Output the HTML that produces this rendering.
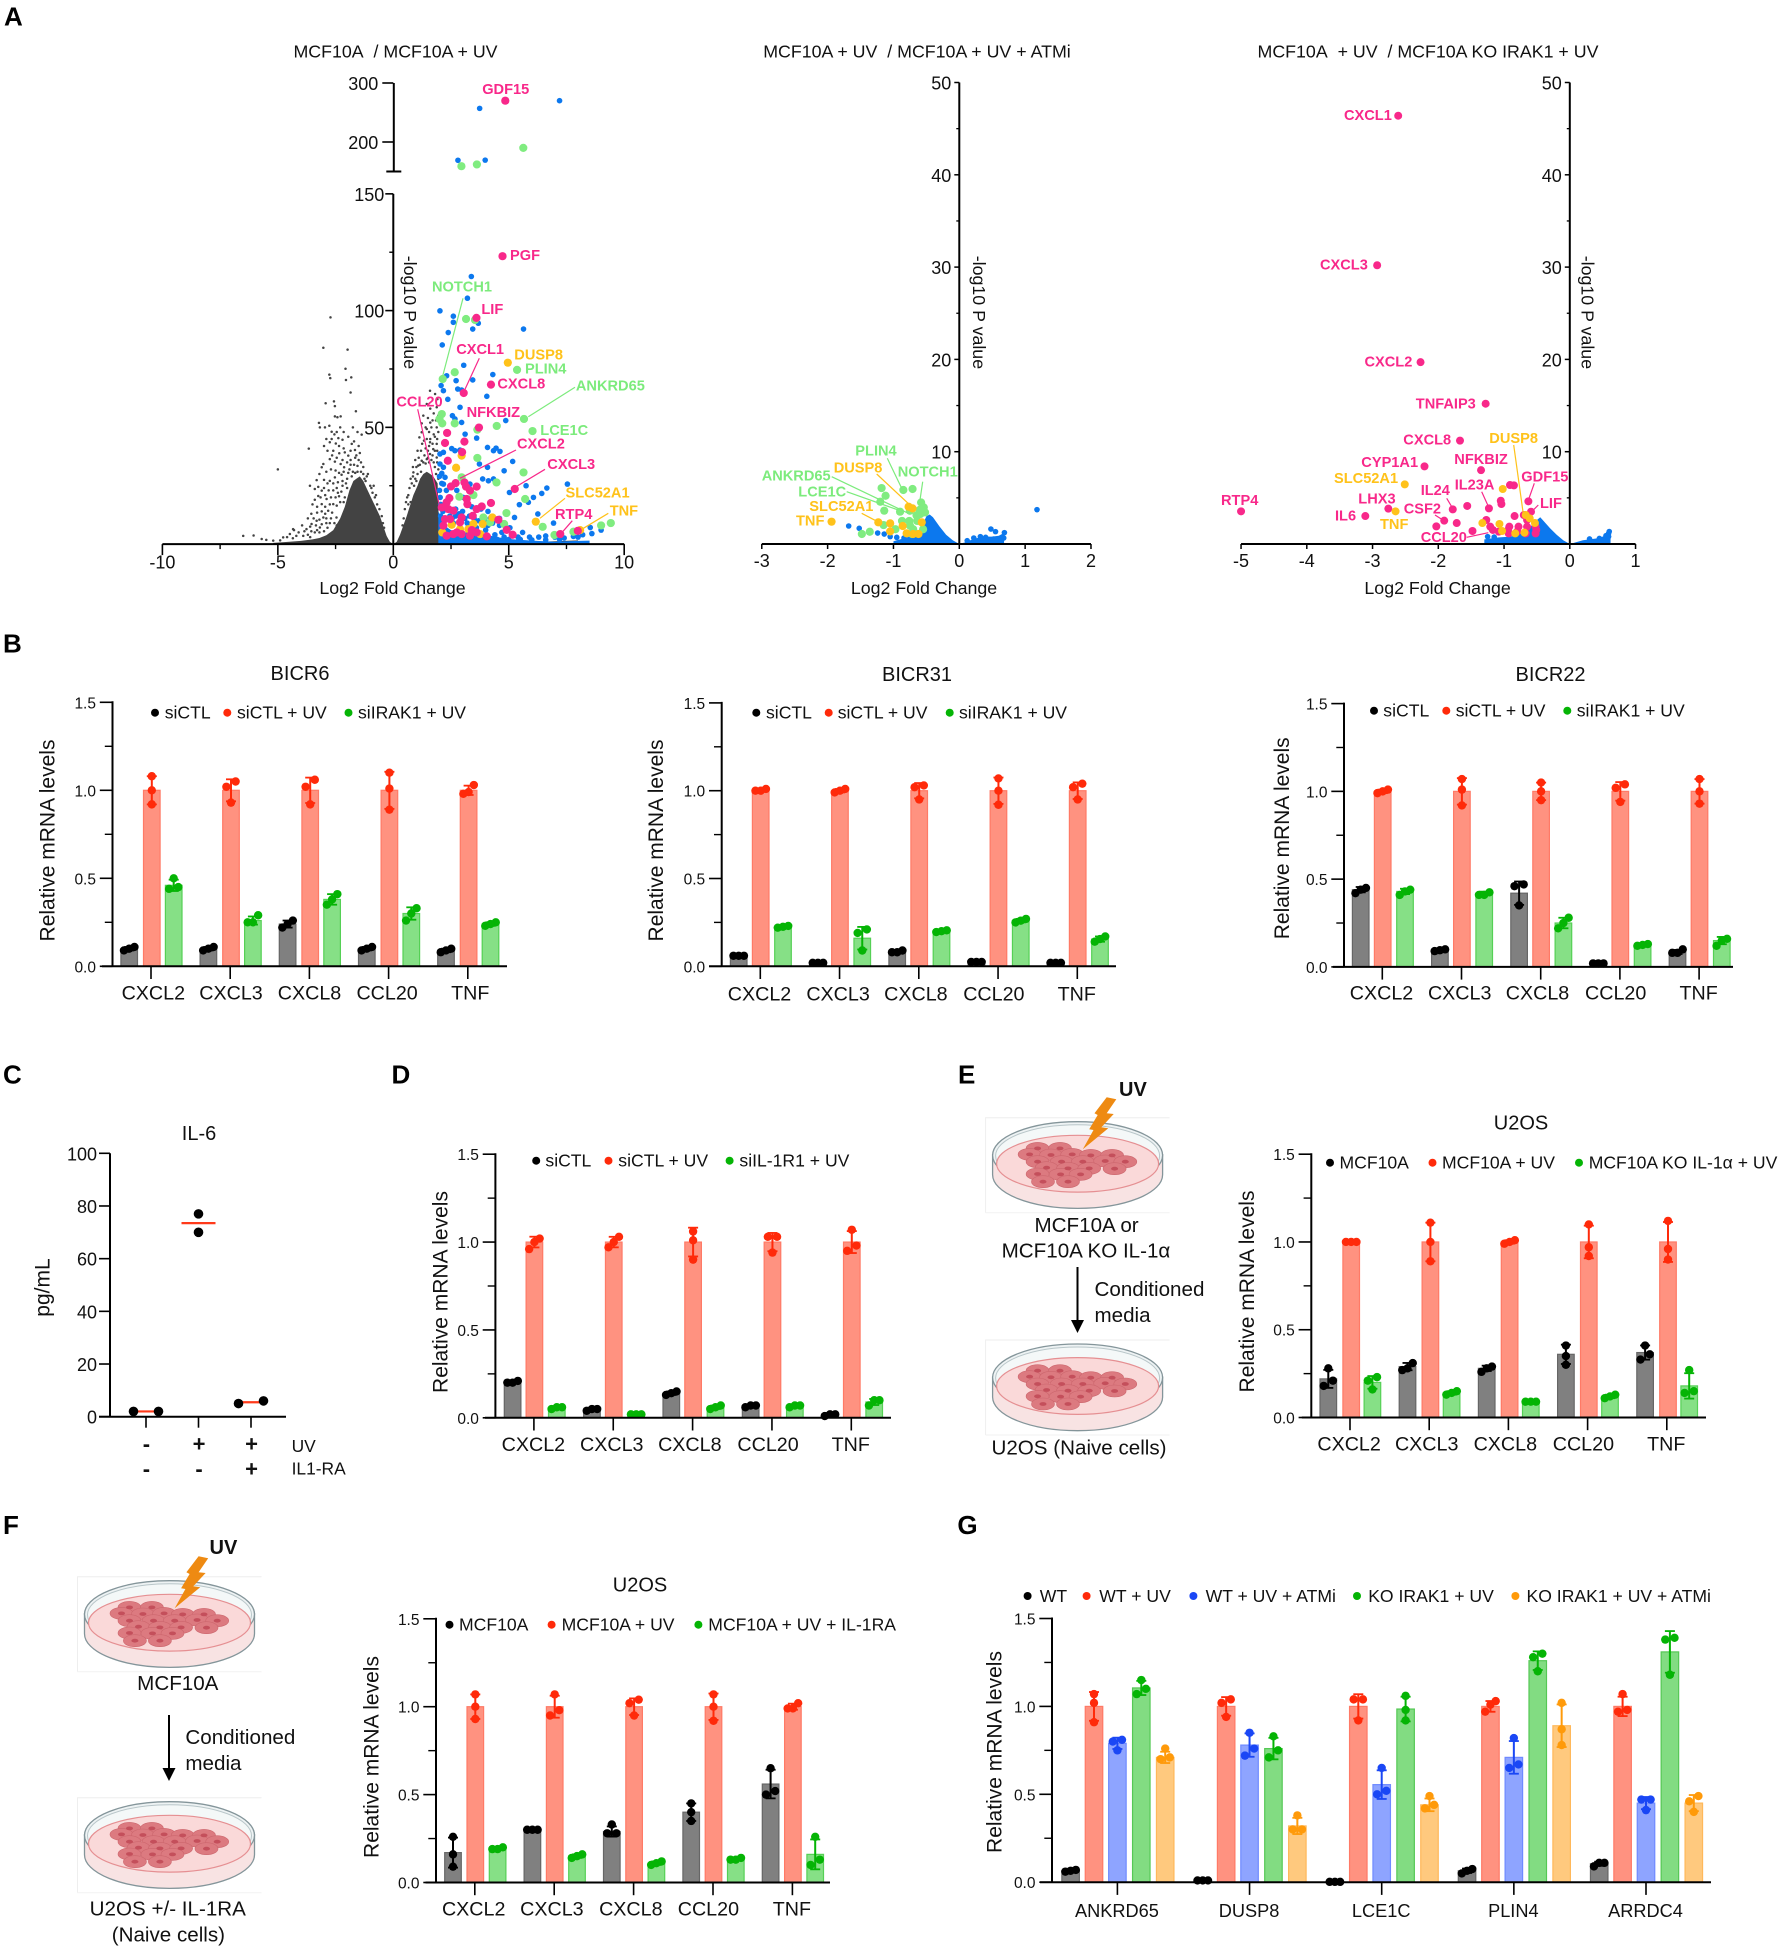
<!DOCTYPE html>
<html lang="en">
<head>
<meta charset="utf-8">
<title>Multi-panel figure: volcano plots and relative mRNA bar charts</title>
<style>
html,body{margin:0;padding:0;background:#fff;}
svg{display:block;}
text{font-family:"Liberation Sans","Noto Sans CJK SC",sans-serif;fill:#111;dominant-baseline:central;}
.letter{font-size:26px;font-weight:700;fill:#000;dominant-baseline:alphabetic;}
.vt{font-size:17.8px;text-anchor:middle;}
.gene{font-size:14.6px;font-weight:700;}
.pk{fill:#f8288a;}.gr{fill:#7ceb7c;}.ye{fill:#ffc21a;}
.lpk{stroke:#f8288a;stroke-width:1.2;}.lgr{stroke:#7ceb7c;stroke-width:1.2;}.lye{stroke:#ffc21a;stroke-width:1.2;}
.ttl{font-size:20px;text-anchor:middle;}
.yt{font-size:21px;text-anchor:middle;}
.leg{font-size:17.6px;}
.cap{font-size:20.6px;}
.mid{text-anchor:middle;}
</style>
</head>
<body>
<svg id="figure" width="1783" height="1950" viewBox="0 0 1783 1950" xmlns="http://www.w3.org/2000/svg">
<defs>
<g id="dish">
<path d="M0 95 V0 H184" fill="none" stroke="#eeeeee" stroke-width="1"/>
<path d="M0 95 H184" fill="none" stroke="#f2f2f2" stroke-width="1"/>
<path d="M7 37 V57 A85 33.7 0 0 0 177 57 V37 Z" fill="#f8e3e3" stroke="#84959a" stroke-width="1.3"/>
<ellipse cx="92" cy="37.5" rx="85" ry="33.5" fill="#eef3f4" stroke="#84959a" stroke-width="1.3"/>
<ellipse cx="92" cy="38" rx="82" ry="31" fill="#f4f8f8" stroke="#b9c6c9" stroke-width="1"/>
<ellipse cx="92" cy="46" rx="81" ry="28.4" fill="#fad9d9" stroke="#e58f92" stroke-width="1.2"/>
<g fill="#dc7a80" stroke="#cc666d" stroke-width="0.6">
<ellipse cx="52" cy="30.7" rx="11.5" ry="6"/><ellipse cx="74.4" cy="30.7" rx="11.5" ry="6"/><ellipse cx="44" cy="36.7" rx="11.5" ry="6"/><ellipse cx="65.4" cy="37.3" rx="11.5" ry="6"/><ellipse cx="86.6" cy="36.7" rx="11.5" ry="6"/><ellipse cx="105.2" cy="37.7" rx="11.5" ry="6"/><ellipse cx="126.5" cy="37.7" rx="11.5" ry="6"/><ellipse cx="52" cy="44" rx="11.5" ry="6"/><ellipse cx="76" cy="44" rx="11.5" ry="6"/><ellipse cx="97.2" cy="44" rx="11.5" ry="6"/><ellipse cx="119.6" cy="43.3" rx="11.5" ry="6"/><ellipse cx="139.7" cy="44" rx="11.5" ry="6"/><ellipse cx="61" cy="50" rx="11.5" ry="6"/><ellipse cx="82.4" cy="50.7" rx="11.5" ry="6"/><ellipse cx="103.6" cy="50.7" rx="11.5" ry="6"/><ellipse cx="129" cy="51" rx="11.5" ry="6"/><ellipse cx="52" cy="56.3" rx="11.5" ry="6"/><ellipse cx="75" cy="56.7" rx="11.5" ry="6"/><ellipse cx="95" cy="56.7" rx="11.5" ry="6"/><ellipse cx="57.4" cy="64" rx="11.5" ry="6"/><ellipse cx="82.4" cy="64" rx="11.5" ry="6"/>
</g>
<g fill="#c44f5b">
<ellipse cx="52" cy="30.7" rx="3.5" ry="1.9"/><ellipse cx="74.4" cy="30.7" rx="3.5" ry="1.9"/><ellipse cx="44" cy="36.7" rx="3.5" ry="1.9"/><ellipse cx="65.4" cy="37.3" rx="3.5" ry="1.9"/><ellipse cx="86.6" cy="36.7" rx="3.5" ry="1.9"/><ellipse cx="105.2" cy="37.7" rx="3.5" ry="1.9"/><ellipse cx="126.5" cy="37.7" rx="3.5" ry="1.9"/><ellipse cx="52" cy="44" rx="3.5" ry="1.9"/><ellipse cx="76" cy="44" rx="3.5" ry="1.9"/><ellipse cx="97.2" cy="44" rx="3.5" ry="1.9"/><ellipse cx="119.6" cy="43.3" rx="3.5" ry="1.9"/><ellipse cx="139.7" cy="44" rx="3.5" ry="1.9"/><ellipse cx="61" cy="50" rx="3.5" ry="1.9"/><ellipse cx="82.4" cy="50.7" rx="3.5" ry="1.9"/><ellipse cx="103.6" cy="50.7" rx="3.5" ry="1.9"/><ellipse cx="129" cy="51" rx="3.5" ry="1.9"/><ellipse cx="52" cy="56.3" rx="3.5" ry="1.9"/><ellipse cx="75" cy="56.7" rx="3.5" ry="1.9"/><ellipse cx="95" cy="56.7" rx="3.5" ry="1.9"/><ellipse cx="57.4" cy="64" rx="3.5" ry="1.9"/><ellipse cx="82.4" cy="64" rx="3.5" ry="1.9"/>
</g>
</g>
<polygon id="bolt" points="121.1,-20.4 130.7,-18.4 121.1,-4.4 128.1,-3.7 115.8,9.6 122.7,10.6 97.2,31.6 107.9,12.3 103.6,11.6 112.1,-2.7 108.9,-4.4" fill="#ee8a12"/>
</defs>

<!-- panel letters -->
<text class="letter" x="4" y="25.7">A</text>
<text class="letter" x="3" y="652.7">B</text>
<text class="letter" x="3" y="1083.3">C</text>
<text class="letter" x="391.5" y="1083.3">D</text>
<text class="letter" x="958" y="1083.3">E</text>
<text class="letter" x="3" y="1534">F</text>
<text class="letter" x="957.4" y="1534">G</text>

<!-- Panel A titles and axis titles -->
<g>
<text class="vt" x="395.5" y="51.4">MCF10A&#160; / MCF10A + UV</text>
<text class="vt" x="917" y="51.4">MCF10A + UV&#160; / MCF10A + UV + ATMi</text>
<text class="vt" x="1428" y="51.4">MCF10A&#160; + UV&#160; / MCF10A KO IRAK1 + UV</text>
<text class="vt" x="392.5" y="588">Log2 Fold Change</text>
<text class="vt" x="924" y="588">Log2 Fold Change</text>
<text class="vt" x="1437.6" y="588">Log2 Fold Change</text>
<text class="vt" transform="translate(410 312.4) rotate(90)">-log10 P value</text>
<text class="vt" transform="translate(979 312.4) rotate(90)">-log10 P value</text>
<text class="vt" transform="translate(1587.4 312.4) rotate(90)">-log10 P value</text>
</g>

<g id="volcano-1"></g>
<g id="volcano-2"></g>
<g id="volcano-3"></g>

<!-- Volcano 1 annotations -->
<g fill="none">
<line class="lgr" x1="463" y1="298.3" x2="442.7" y2="376"/>
<line class="lpk" x1="479.3" y1="358.3" x2="465" y2="389.3"/>
<line class="lgr" x1="575" y1="387.3" x2="528.3" y2="416.7"/>
<line class="lpk" x1="417.7" y1="409.3" x2="439.3" y2="505"/>
<line class="lpk" x1="516" y1="450" x2="460" y2="478.3"/>
<line class="lpk" x1="545" y1="469.3" x2="517.3" y2="486"/>
<line class="lye" x1="565" y1="498.3" x2="540" y2="518.3"/>
<line class="lpk" x1="572.3" y1="520.7" x2="562.7" y2="531.7"/>
<line class="lye" x1="608.3" y1="513.3" x2="581.7" y2="529.3"/>
</g>
<g>
<text class="gene pk" x="482.2" y="90">GDF15</text>
<text class="gene pk" x="510" y="256">PGF</text>
<text class="gene gr" x="432" y="287.6">NOTCH1</text>
<text class="gene pk" x="481.4" y="310.2">LIF</text>
<text class="gene pk" x="456.2" y="350.1">CXCL1</text>
<text class="gene ye" x="514.3" y="355.3">DUSP8</text>
<text class="gene gr" x="525" y="369.6">PLIN4</text>
<text class="gene pk" x="497.4" y="384.6">CXCL8</text>
<text class="gene gr" x="575.9" y="386.6">ANKRD65</text>
<text class="gene pk" x="396.4" y="402.3">CCL20</text>
<text class="gene pk" x="466.6" y="413">NFKBIZ</text>
<text class="gene gr" x="540.3" y="430.8">LCE1C</text>
<text class="gene pk" x="517" y="444.3">CXCL2</text>
<text class="gene pk" x="547.3" y="465.2">CXCL3</text>
<text class="gene ye" x="565.5" y="493.6">SLC52A1</text>
<text class="gene ye" x="609.7" y="511.5">TNF</text>
<text class="gene pk" x="555" y="515">RTP4</text>
</g>

<!-- Volcano 2 annotations -->
<g fill="none">
<line class="lgr" x1="887.3" y1="458.3" x2="901.7" y2="488.3"/>
<line class="lye" x1="876.7" y1="474" x2="911.7" y2="506.7"/>
<line class="lgr" x1="922.7" y1="481.7" x2="920" y2="500"/>
<line class="lgr" x1="831.7" y1="476.7" x2="908.3" y2="513.3"/>
<line class="lgr" x1="846.7" y1="491.7" x2="898.3" y2="510"/>
<line class="lye" x1="861.7" y1="513.3" x2="877.7" y2="521.7"/>
</g>
<g>
<text class="gene gr" x="855.3" y="451.6">PLIN4</text>
<text class="gene ye" x="833.7" y="468.3">DUSP8</text>
<text class="gene gr" x="897.7" y="472.3">NOTCH1</text>
<text class="gene gr" x="761.7" y="476.6">ANKRD65</text>
<text class="gene gr" x="798.3" y="492.3">LCE1C</text>
<text class="gene ye" x="809.3" y="506.9">SLC52A1</text>
<text class="gene ye" x="796" y="521.3">TNF</text>
</g>

<!-- Volcano 3 annotations -->
<g fill="none">
<line class="lye" x1="1513.7" y1="445" x2="1523.3" y2="514"/>
<line class="lpk" x1="1534.3" y1="483.3" x2="1529" y2="498.3"/>
<line class="lpk" x1="1446.7" y1="498.3" x2="1451.7" y2="506.7"/>
<line class="lpk" x1="1481.7" y1="491.7" x2="1487.7" y2="505"/>
<line class="lpk" x1="1538.3" y1="505" x2="1531.7" y2="511.7"/>
<line class="lpk" x1="1435" y1="515" x2="1441.7" y2="519.3"/>
<line class="lpk" x1="1466.7" y1="537.3" x2="1488.3" y2="532.7"/>
</g>
<g>
<text class="gene pk" x="1344" y="116.1">CXCL1</text>
<text class="gene pk" x="1320" y="265.6">CXCL3</text>
<text class="gene pk" x="1364.5" y="362.4">CXCL2</text>
<text class="gene pk" x="1415.8" y="404.3">TNFAIP3</text>
<text class="gene pk" x="1403.3" y="440.6">CXCL8</text>
<text class="gene ye" x="1489.3" y="438.9">DUSP8</text>
<text class="gene pk" x="1361.3" y="462.9">CYP1A1</text>
<text class="gene pk" x="1454.3" y="459.9">NFKBIZ</text>
<text class="gene pk" x="1521.3" y="477.3">GDF15</text>
<text class="gene ye" x="1334" y="478.9">SLC52A1</text>
<text class="gene pk" x="1454.7" y="485.6">IL23A</text>
<text class="gene pk" x="1420.7" y="490.9">IL24</text>
<text class="gene pk" x="1221" y="500.8">RTP4</text>
<text class="gene pk" x="1358.3" y="499.3">LHX3</text>
<text class="gene pk" x="1540" y="503.9">LIF</text>
<text class="gene pk" x="1403.7" y="509.6">CSF2</text>
<text class="gene pk" x="1335" y="516.6">IL6</text>
<text class="gene ye" x="1380" y="524.9">TNF</text>
<text class="gene pk" x="1420.7" y="537.9">CCL20</text>
</g>

<!-- Panel B -->
<text class="ttl" x="300" y="674">BICR6</text>
<text class="ttl" x="917" y="675">BICR31</text>
<text class="ttl" x="1550.5" y="675">BICR22</text>
<text class="yt" transform="translate(48 840.5) rotate(-90)">Relative mRNA levels</text>
<text class="yt" transform="translate(656.7 840.5) rotate(-90)">Relative mRNA levels</text>
<text class="yt" transform="translate(1282.7 838.3) rotate(-90)">Relative mRNA levels</text>
<g id="chart-b1"></g>
<g id="chart-b2"></g>
<g id="chart-b3"></g>

<g>
<circle cx="155" cy="712.7" r="4" fill="#000"/><text class="leg" x="164.7" y="712.7">siCTL</text>
<circle cx="227.3" cy="712.7" r="4" fill="#ff2a0a"/><text class="leg" x="237" y="712.7">siCTL + UV</text>
<circle cx="348.5" cy="712.7" r="4" fill="#05b405"/><text class="leg" x="358" y="712.7">siIRAK1 + UV</text>
</g>
<g>
<circle cx="756.3" cy="712.7" r="4" fill="#000"/><text class="leg" x="766" y="712.7">siCTL</text>
<circle cx="828.7" cy="712.7" r="4" fill="#ff2a0a"/><text class="leg" x="837.7" y="712.7">siCTL + UV</text>
<circle cx="949.7" cy="712.7" r="4" fill="#05b405"/><text class="leg" x="959" y="712.7">siIRAK1 + UV</text>
</g>
<g>
<circle cx="1374" cy="710.7" r="4" fill="#000"/><text class="leg" x="1383.3" y="710.7">siCTL</text>
<circle cx="1446.3" cy="710.7" r="4" fill="#ff2a0a"/><text class="leg" x="1455.7" y="710.7">siCTL + UV</text>
<circle cx="1567.3" cy="710.7" r="4" fill="#05b405"/><text class="leg" x="1576.7" y="710.7">siIRAK1 + UV</text>
</g>

<!-- Panel C -->
<text class="ttl" x="199" y="1134">IL-6</text>
<text class="yt" transform="translate(43 1287.5) rotate(-90)">pg/mL</text>
<g id="chart-c"></g>
<g font-weight="700">
<text class="mid" x="146.4" y="1444" font-size="22" font-weight="700">-</text>
<text class="mid" x="199" y="1444" font-size="22" font-weight="700">+</text>
<text class="mid" x="251.5" y="1444" font-size="22" font-weight="700">+</text>
<text class="mid" x="146.4" y="1469" font-size="22" font-weight="700">-</text>
<text class="mid" x="199" y="1469" font-size="22" font-weight="700">-</text>
<text class="mid" x="251.5" y="1469" font-size="22" font-weight="700">+</text>
<text x="291.6" y="1446" font-size="17.4" font-weight="400">UV</text>
<text x="291.6" y="1468.5" font-size="17.4" font-weight="400">IL1-RA</text>
</g>

<!-- Panel D -->
<text class="yt" transform="translate(441 1292) rotate(-90)">Relative mRNA levels</text>
<g id="chart-d"></g>
<g>
<circle cx="536.2" cy="1160.7" r="4" fill="#000"/><text class="leg" x="545.4" y="1160.7">siCTL</text>
<circle cx="608.5" cy="1160.7" r="4" fill="#ff2a0a"/><text class="leg" x="618.3" y="1160.7">siCTL + UV</text>
<circle cx="729.6" cy="1160.7" r="4" fill="#05b405"/><text class="leg" x="739.4" y="1160.7">siIL-1R1 + UV</text>
</g>

<!-- Panel E -->
<g>
<use href="#dish" x="985.6" y="1117.7"/>
<use href="#bolt" x="985.6" y="1117.7"/>
<text x="1119" y="1090" font-size="20" font-weight="700">UV</text>
<text class="cap mid" x="1086.6" y="1225.7">MCF10A or</text>
<text class="cap mid" x="1086" y="1251">MCF10A KO IL-1α</text>
<line x1="1077.5" y1="1267" x2="1077.5" y2="1322" stroke="#000" stroke-width="2"/>
<polygon points="1071,1320 1084,1320 1077.5,1333" fill="#000"/>
<text class="cap" x="1094.5" y="1289.3">Conditioned</text>
<text class="cap" x="1094.5" y="1315.7">media</text>
<use href="#dish" x="985.6" y="1340"/>
<text class="cap mid" x="1079" y="1448">U2OS (Naive cells)</text>
</g>
<text class="ttl" x="1521" y="1123.7">U2OS</text>
<text class="yt" transform="translate(1247.6 1291.5) rotate(-90)">Relative mRNA levels</text>
<g id="chart-e"></g>
<g>
<circle cx="1330" cy="1162.7" r="4" fill="#000"/><text class="leg" x="1339.5" y="1162.7">MCF10A</text>
<circle cx="1432.5" cy="1162.7" r="4" fill="#ff2a0a"/><text class="leg" x="1442" y="1162.7">MCF10A + UV</text>
<circle cx="1579" cy="1162.7" r="4" fill="#05b405"/><text class="leg" x="1588.7" y="1162.7">MCF10A KO IL-1α + UV</text>
</g>

<!-- Panel F -->
<g>
<use href="#dish" x="77.5" y="1576.7"/>
<use href="#bolt" x="77.5" y="1576.7"/>
<text x="209.5" y="1548" font-size="20" font-weight="700">UV</text>
<text class="cap mid" x="177.8" y="1683.3">MCF10A</text>
<line x1="169" y1="1715" x2="169" y2="1770" stroke="#000" stroke-width="2"/>
<polygon points="162.5,1768 175.5,1768 169,1781" fill="#000"/>
<text class="cap" x="185.4" y="1737.3">Conditioned</text>
<text class="cap" x="185.4" y="1763.3">media</text>
<use href="#dish" x="77.5" y="1797.7"/>
<text class="cap mid" x="167.8" y="1909">U2OS +/- IL-1RA</text>
<text class="cap mid" x="168.4" y="1935">(Naive cells)</text>
</g>
<text class="ttl" x="640" y="1585.3">U2OS</text>
<text class="yt" transform="translate(372 1757) rotate(-90)">Relative mRNA levels</text>
<g id="chart-f"></g>
<g>
<circle cx="449.5" cy="1624.7" r="4" fill="#000"/><text class="leg" x="459" y="1624.7">MCF10A</text>
<circle cx="551.6" cy="1624.7" r="4" fill="#ff2a0a"/><text class="leg" x="561.6" y="1624.7">MCF10A + UV</text>
<circle cx="698.4" cy="1624.7" r="4" fill="#05b405"/><text class="leg" x="708.3" y="1624.7">MCF10A + UV + IL-1RA</text>
</g>

<!-- Panel G -->
<text class="yt" transform="translate(995 1752) rotate(-90)">Relative mRNA levels</text>
<g id="chart-g"></g>
<g>
<circle cx="1027.6" cy="1596" r="4" fill="#000"/><text class="leg" x="1039.8" y="1596">WT</text>
<circle cx="1086.6" cy="1596" r="4" fill="#ff2a0a"/><text class="leg" x="1099.3" y="1596">WT + UV</text>
<circle cx="1193.4" cy="1596" r="4" fill="#1a47f5"/><text class="leg" x="1205.6" y="1596">WT + UV + ATMi</text>
<circle cx="1357" cy="1596" r="4" fill="#05b405"/><text class="leg" x="1368.2" y="1596">KO IRAK1 + UV</text>
<circle cx="1515.4" cy="1596" r="4" fill="#ff9a0a"/><text class="leg" x="1526.5" y="1596">KO IRAK1 + UV + ATMi</text>
</g>
</svg>

<script>
// ---------- Volcano 1 data (log2FC, -log10 P) ----------
const a1XTicks=[-10,-5,0,5,10];
const a1XMinor=[-7.5,-2.5,2.5,7.5];
const a1YTicks=[50,100,150];
const a1YMinor=[25,75,125];
const a1TopTicks=[200,300];
const a1CloudLeftX=[-5.2,-4.5,-4,-3.5,-3.2,-2.9,-2.6,-2.3,-2.1,-1.9,-1.73,-1.6,-1.45,-1.3,-1.16,-0.87,-0.58,-0.29,-0.15,0];
const a1CloudLeftY=[0.5,1,1.4,2,2.6,3.8,6,11,16,23,27,28,29,27,24,18,12,3.5,1,0];
const a1CloudRightX=[0,0.15,0.29,0.58,0.87,1.05,1.16,1.3,1.45,1.6,1.73,1.92,2,3,4,5,6,7,8];
const a1CloudRightY=[0,1,4,12,21,25,28,30,31,30,29,26,1,0.6,0.6,0.7,0.9,1.2,1.6];
const a1BlueCloudX=[1.95,2.2,2.5,3,3.5,4,4.5,5,6,7,8,8.5];
const a1BlueCloudY=[14,8,6,5,5,4,3,2.2,1.5,1,1.4,1.5];
const a1Gray=[[-2.72,97.1],[-3.03,84.1],[-1.98,83.3],[-2.07,75.1],[-2.77,72.6],[-2.73,71.1],[-2.05,70.3],[-1.82,71.4],[-1.85,64.9],[-2.93,60.3],[-2.57,61.1],[-2.53,59.1],[-2.53,54.7],[-2.28,54.7],[-1.62,56.9],[-3.22,51.9],[-3.18,50],[-2.96,50],[-2.77,50.7],[-2.42,54.3],[-2.67,48.1],[-2.67,45],[-2.38,45.4],[-2.2,44.7],[-2.75,43.6],[-2.49,43.1],[-1.8,42.9],[-1.66,40.3],[-1.37,46.9],[-3.66,40.9],[-2.6,40],[-2.34,38.9],[-2.1,39.3],[-1.95,37.9],[-2.75,36.4],[-2.53,35.3],[-2.28,34.3],[-2.13,32.9],[-3.03,34.3],[-3.1,32.9],[-3.32,27.4],[-3.61,25],[-3.4,23.6],[-3.1,22.9],[-2.75,27.1],[-2.53,28.6],[-2.24,29.7],[-3.25,20.6],[-2.89,19.3],[-3.1,17.1],[-2.6,17.1],[-2.82,14.3],[-3.03,11.4],[-3.32,10],[-3.54,8.6],[-3.76,6.4],[-4.34,6.4],[-4.48,4.3],[-4.77,2.9],[-3.18,7.1],[-2.46,11.4],[-5,32],[-6.5,3.5],[-6.05,3.7],[-5.7,2.2],[-4.3,6],[-4.35,2.5],[-3.9,3.5],[-3.4,5],[-2.4,22],[-2.2,25],[-2,28],[-2.6,23],[-2.3,18],[-2.1,20],[-1.9,32],[-1.7,34],[-1.5,36],[-1.3,33],[-1.1,30],[-0.95,24],[-0.8,20],[-1.6,38],[-1.4,35],[-2.9,9],[-3.3,6],[-3.7,4],[-2.45,8],[-2.7,11],[-1.75,31],[-1.25,28],
[-2.9,45],[-3,42],[-2.85,40],[-2.45,48],[-2.3,50],[-2.15,48],[-1.95,46],[-1.75,50],[-1.55,48],[-2.55,47],[-2.35,42],[-2.15,41],[-1.85,40],[-1.7,44],[-1.5,42],[-1.45,39],[-2.65,38],[-2.45,37],[-2.2,36],[-2,35],[-1.85,36],[-1.65,37],[-1.55,33.5],[-2.9,31],[-2.7,32],[-2.5,31.5],[-2.35,30.5],[-2.15,31],[-1.95,30.5],[-1.85,34],[-3.2,30],[-3,27.5],[-2.85,26],[-2.6,26],[-2.4,26.5],[-2.2,27],[-2.05,26],[-3.25,24.5],[-3,24],[-2.8,23],[-2.45,24],[-2.25,22.5],[-3.4,19],[-3.15,20],[-2.95,21],[-2.7,20],[-2.5,20],[-2.35,20.5],[-2.15,18],[-3.5,17],[-3.3,16],[-2.95,16],[-2.75,17],[-2.45,16.5],[-3.55,13],[-3.3,13.5],[-3.1,14],[-2.95,13],[-2.65,13.5],[-3.7,11],[-3.45,11],[-3.2,10.5],[-2.9,11],[-2.75,9],[-2.55,9],[-3.95,8],[-3.6,7.5],[-3.35,8],[-3.1,8.5],[-2.85,7],[-4.1,5],[-3.85,5.5],[-3.55,5.5],[-3.2,5],[-3,5.5],[-4.6,3],[-4.2,3.5],[-3.6,3],[-5.2,1.5],[-5.5,1.8],[-4.9,1.6],
[-1.2,27],[-1,25],[-0.9,22],[-0.7,17],[-0.6,15],[-0.5,12],[-0.45,9],[-0.4,7],[-1.3,30],[-1.55,31],[-1.65,30.5],[-1.8,29],[-2,24],[-1.4,31],[-1.15,29],[-0.85,25],[-0.75,21],
[1.59,65.7],[1.81,64.3],[1.91,62.1],[1.88,58.6],[1.23,51.7],[1.45,49.3],[1.88,50],[1.23,47.9],[1.13,45.7],[1.33,44.3],[1.59,43.6],[1.88,42.9],[1.73,40.7],[1.59,38.6],[1.88,37.1],[1.45,36.4],[1.23,35.7],[1.08,33.6],[0.87,30.7],[1.6,45],[1.75,47],[1.7,53],[1.5,40],[1.35,38],[1.65,36],[1.8,33],[1,27],[0.9,25],[0.75,18],[0.65,17],
[1.45,60],[1.6,58],[1.75,56],[1.85,53],[1.3,55],[1.5,54],[1.65,50],[1.4,50],[1.55,48],[1.8,46],[1.25,43],[1.45,45],[1.7,43],[1.9,45],[1.05,40],[1.2,40],[1.4,41],[1.55,42],[1.8,40],[0.95,36],[1.1,37],[1.3,35],[1.5,37],[1.7,38],[1.9,35],[0.85,33],[1,33],[1.15,34],[1.55,35],[1.75,35],[0.75,28],[0.85,29],[1.05,30],[1.2,31],[1.4,34.5],[0.6,20],[0.7,24],[0.8,26],[0.95,28],[0.5,15],[0.55,18],[0.65,21],[0.45,11],[0.4,8],[1.9,40],[1.95,48],[1.95,55],[1.6,52],[1.95,32],[1.85,30],[1.95,28]];
const a1Blue=[[3.38,114.6],[3.21,105.3],[2.02,99.9],[2.6,97.6],[2.6,95],[3.68,94.6],[3.44,92.1],[5.64,92.1],[2.38,90.6],[2.12,85.3],[3.05,76.6],[2.31,72.1],[4.31,72.6],[2.72,70],[3.44,70.3],[2.07,67.9],[2.17,65.7],[2.79,66.4],[2.96,66],[4.05,63.3],[2.36,62],[2.89,58.6],[2.56,55],[2.67,53.6],[2.96,52.1],[4.87,52.9],[3.11,47.1],[3.61,45.4],[4.08,41.4],[4.34,40],[4.45,41.1],[4.62,39.7],[2.53,40.9],[2.67,40],[2.89,40.3],[2.02,38.6],[2.17,39.3],[5.17,35.4],[3.73,34.3],[4.08,32.9],[4.8,31.4],[2.02,34.3],[2.17,32.9],[2.75,32.9],[2.1,30.3],[2.24,28.6],[3.87,27.9],[4.12,27.1],[4.34,27.9],[7.54,25.7],[5.75,25],[6.65,24],[5.03,22.1],[6.43,21.7],[6.07,20],[5.46,16.9],[5.85,17.9],[6.26,12.9],[6.94,9],[5.25,11.4],[8.53,7.1],[2,23],[2.03,20],[2.05,17],[2.17,25.7],[2.3,23],[2.75,23],[3.03,20],[3.32,25.7],[3.4,16],[3.8,15],[4.1,14],[4.3,9],[4.6,8],[4.9,6],[5.2,4],[5.6,5],[5.9,3],[6.3,3],[6.6,3.5],[7,3],[7.4,2.6],[7.8,3.3],[8.2,4],[8.6,4.5],[9,6],[2.4,15],[2.7,15],[3,14],[2.2,10],[2.6,9],[3.2,9],[3.6,7],[4,6],[4.4,4],[4.8,3],[2.1,5],[2.5,4],[3,4],[3.5,3],[4,3],[2.1,2],[2.5,2],[3,2],[3.5,2],[4,2],[4.5,2],[5,2],[5.5,2],
[2.05,12],[2.15,14],[2.3,11],[2.45,12],[2.55,11],[2.7,12],[2.85,13],[3.1,11],[3.3,12],[3.5,11],[3.7,10],[3.95,10],[4.2,11],[4.6,11],[4.1,8],[4.7,5],[5.05,7],[5.4,3],[6,1.8],[6.6,1.8],[7.2,2],[8,3],[2,29],[2.1,26]];
const a1Green=[[2.14,70.7],[2.66,73.6],[5.36,74.6],[3.15,96.4],[3.54,96],[5.66,53.6],[6.03,48.4],[4.48,50.6],[2.1,55.7],[2,53.6],[2.12,51.7],[2.66,51.7],[3.64,49],[3.64,36.9],[5.64,30.7],[4.47,26.4],[5.71,19.3],[2.86,20.3],[3.47,21],[4.9,13.3],[3.9,11.4],[4.19,9.3],[4.8,8.6],[6.47,7.4],[9,8],[9.42,9],[6.98,3.9],[2.96,28.6],[7.8,5.3]];
const a1Yellow=[[4.96,77.7],[2.72,32.7],[2.96,37.9],[6.17,9.6],[8.09,6],[4.29,11.4],[3.87,8.6],[3.47,8.6],[2.53,8.3],[2.12,5],[2.89,6.4],[3.25,6.4],[3.76,4.3]];
const a1Pink=[[4.73,123.3],[3.6,96.9],[3.05,64.7],[4.23,68.3],[3.71,49.9],[2.33,47.6],[2.24,43.3],[3.08,43.9],[2.98,39.4],[2.36,35.7],[5.26,23.6],[2.5,24.7],[2.7,26.1],[3.08,26.4],[3.15,24.6],[3.32,22.9],[3.61,24.6],[2.43,19.7],[2.31,17.9],[2.1,15.7],[2.38,15],[3.18,19.3],[3.21,17.1],[4.23,17.6],[3.83,16.1],[3.61,15],[3.44,12.1],[2.6,14.3],[2.24,10.7],[2.17,7.9],[2.46,10.7],[2.96,11.4],[2.89,9.3],[2.6,4.3],[2.31,3.6],[2.75,5],[2.96,4.3],[3.32,3.6],[3.4,6],[3.61,5],[4.05,3.3],[4.55,10.4],[4.91,6.1],[5.17,4],[7.23,4.3],[7.99,5.7]];
const a1TopBlue=[[7.2,270],[3.74,257],[2.8,169],[3.98,169.3]];
const a1TopGreen=[[5.63,190],[2.95,159],[3.62,162]];
const a1TopPink=[[4.85,270]];

// ---------- Volcano 2 data ----------
const a2XTicks=[-3,-2,-1,0,1,2];
const a2YTicks=[10,20,30,40,50];
const a2YMinor=[5,15,25,35,45];
const a2CloudX=[-1,-0.9,-0.8,-0.7,-0.6,-0.55,-0.5,-0.45,-0.4,-0.3,-0.2,-0.1,0,0.1,0.2,0.3,0.4,0.5,0.6,0.68,0.68];
const a2CloudY=[0.3,0.5,0.7,1,1.6,2.2,3,3.2,2.9,1.9,1,0.4,0,0.2,0.5,0.7,0.8,0.8,0.9,1.2,0.2];
const a2Blue=[[1.18,3.72],[-1.68,1.95],[-1.52,1.7],[-1.24,1.19],[-1.14,1.08],[-1.05,0.8],[-0.95,0.72],[-0.84,0.65],[0.48,1.62],[0.55,1.34],[0.685,1.23],[0.675,0.65],[0.4,0.72],[0.32,0.8],[0.22,0.65],[0.52,0.54],[0.12,0.36]];
const a2Green=[[-1.18,6.06],[-1.12,5.23],[-1.2,4.58],[-1.14,3.61],[-0.85,5.85],[-0.71,5.96],[-0.9,3.5],[-0.75,3.6],[-0.58,4.5],[-0.54,3.97],[-0.52,3.43],[-0.59,3.25],[-0.76,2.5],[-0.75,2],[-0.64,2.5],[-0.55,1.6],[-0.7,1.6],[-1.15,2.05],[-0.97,1.6],[-1.48,1.08],[-1.36,1.33],[-0.72,1.08],[-0.87,2.5],[-0.6,3.7],[-0.65,3.1]];
const a2Yellow=[[-1.94,2.42],[-1.23,2.35],[-1.05,2.24],[-1.05,1.37],[-0.86,1.95],[-0.71,3.86],[-0.77,4.04],[-0.57,2.35],[-0.8,1.16],[-0.7,1.08],[-0.62,1.08]];

// ---------- Volcano 3 data ----------
const a3XTicks=[-5,-4,-3,-2,-1,0,1];
const a3CloudX=[-1.3,-1.1,-0.9,-0.7,-0.6,-0.55,-0.5,-0.45,-0.4,-0.3,-0.2,-0.1,0,0.1,0.2,0.3,0.4,0.5,0.55,0.6,0.62];
const a3CloudY=[0.5,0.7,0.8,1.2,1.8,2.4,2.6,2.9,2.5,1.7,1,0.4,0,0.2,0.4,0.5,0.6,0.8,1,1.3,0.7];
const a3Blue=[[0.59,1.15],[0.59,0.8],[0.55,0.9],[0.45,0.6],[0.3,0.55],[0.6,1.35],[-1.25,0.8],[-1.15,0.75]];
const a3Pink=[[-2.61,46.4],[-2.93,30.2],[-2.27,19.7],[-1.28,15.2],[-1.67,11.2],[-2.21,8.41],[-1.35,8],[-0.91,6.39],[-0.85,6.35],[-0.63,4.62],[-1.05,4.69],[-1.04,4.33],[-1.56,4.12],[-0.59,3.5],[-1.23,3.86],[-1.78,3.75],[-2.76,3.83],[-5,3.54],[-3.11,3.03],[-1.91,2.53],[-1.72,2.27],[-2.03,1.91],[-1.48,1.41],[-1.27,2.6],[-1.21,1.88],[-1.17,1.52],[-0.84,3.03],[-0.7,3.14],[-0.92,1.88],[-0.78,1.88],[-0.65,1.88],[-0.52,1.88],[-0.93,1.15],[-0.8,1.34],[-0.67,1.15],[-0.52,1.15],[-0.51,1.52],[-1.08,1.34],[-0.94,1.5],[-0.65,2.6]];
const a3Yellow=[[-2.51,6.46],[-1.02,5.96],[-2.65,3.54],[-1.33,2.27],[-1.07,2.17],[-1.03,1.41],[-0.83,1.15],[-0.69,1.23],[-0.67,3.14],[-0.61,2.78],[-0.53,2.27]];

// ---------- Bar chart data ----------
const categoriesCyto=["CXCL2","CXCL3","CXCL8","CCL20","TNF"];
const categoriesG=["ANKRD65","DUSP8","LCE1C","PLIN4","ARRDC4"];
const yTicksBar=[0,0.5,1,1.5];
const yMinorBar=[0.25,0.75,1.25];

const b1Means=[[0.10,0.10,0.24,0.10,0.09],[1,1,1,1,1],[0.46,0.26,0.38,0.30,0.24]];
const b1Reps=[
 [[0.09,0.10,0.11],[0.09,0.10,0.11],[0.22,0.24,0.26],[0.09,0.10,0.11],[0.08,0.09,0.10]],
 [[1.08,1.0,0.92],[1.05,1.02,0.93],[1.06,1.02,0.92],[1.10,1.01,0.89],[1.03,0.98,0.99]],
 [[0.50,0.44,0.45],[0.29,0.25,0.25],[0.41,0.38,0.35],[0.33,0.30,0.26],[0.25,0.23,0.24]]];

const b2Means=[[0.06,0.02,0.085,0.025,0.02],[1,1,1,1,1],[0.225,0.16,0.20,0.26,0.155]];
const b2Reps=[
 [[0.06,0.06,0.06],[0.02,0.02,0.02],[0.08,0.09,0.08],[0.025,0.025,0.025],[0.02,0.02,0.02]],
 [[1.0,1.01,1.0],[1.0,0.99,1.01],[1.03,1.02,0.95],[1.07,1.0,0.92],[1.04,1.02,0.95]],
 [[0.22,0.225,0.23],[0.21,0.19,0.09],[0.195,0.2,0.205],[0.25,0.27,0.26],[0.14,0.17,0.155]]];

const b3Means=[[0.44,0.095,0.42,0.02,0.085],[1,1,1,1,1],[0.43,0.42,0.25,0.125,0.15]];
const b3Reps=[
 [[0.42,0.45,0.44],[0.09,0.10,0.095],[0.47,0.46,0.35],[0.02,0.02,0.02],[0.08,0.10,0.08]],
 [[0.99,1.01,1.0],[1.07,1.01,0.92],[1.05,1.0,0.95],[1.04,1.02,0.94],[1.07,1.0,0.93]],
 [[0.41,0.44,0.43],[0.41,0.425,0.41],[0.28,0.25,0.22],[0.12,0.13,0.125],[0.12,0.16,0.15]]];

const dMeans=[[0.20,0.05,0.14,0.07,0.02],[1,1,1,1,1],[0.055,0.02,0.06,0.07,0.09]];
const dReps=[
 [[0.2,0.21,0.2],[0.04,0.05,0.05],[0.13,0.14,0.15],[0.06,0.07,0.07],[0.01,0.02,0.02]],
 [[1.02,0.96,1.0],[1.03,0.97,1.0],[1.06,1.01,0.90],[1.03,1.03,0.94],[1.07,0.98,0.95]],
 [[0.05,0.06,0.06],[0.02,0.02,0.02],[0.05,0.07,0.06],[0.06,0.07,0.07],[0.07,0.10,0.10]]];

const eMeans=[[0.22,0.29,0.28,0.36,0.37],[1,1,1,1,1],[0.20,0.14,0.09,0.12,0.18]];
const eReps=[
 [[0.28,0.21,0.18],[0.31,0.28,0.27],[0.29,0.28,0.26],[0.41,0.35,0.30],[0.41,0.36,0.33]],
 [[1.0,1.0,1.0],[1.11,1.0,0.89],[1.01,1.0,0.99],[1.10,0.97,0.92],[1.12,0.96,0.90]],
 [[0.23,0.21,0.16],[0.15,0.14,0.13],[0.09,0.09,0.09],[0.13,0.11,0.12],[0.27,0.15,0.14]]];

const fMeans=[[0.17,0.30,0.29,0.40,0.56],[1,1,1,1,1],[0.19,0.15,0.11,0.135,0.16]];
const fReps=[
 [[0.26,0.16,0.09],[0.30,0.30,0.30],[0.33,0.28,0.28],[0.45,0.40,0.35],[0.65,0.52,0.50]],
 [[1.07,1.0,0.93],[1.07,0.98,0.95],[1.04,1.02,0.95],[1.07,1.0,0.92],[1.02,0.99,0.99]],
 [[0.19,0.19,0.20],[0.14,0.15,0.16],[0.10,0.11,0.12],[0.13,0.14,0.13],[0.26,0.13,0.10]]];

const gMeans=[[0.065,0.01,0.005,0.065,0.105],[1,1,1,1,1],[0.79,0.78,0.555,0.71,0.45],[1.105,0.76,0.985,1.26,1.31],[0.71,0.32,0.44,0.89,0.45]];
const gReps=[
 [[0.06,0.065,0.07],[0.01,0.01,0.01],[0.002,0.002,0.002],[0.05,0.065,0.075],[0.09,0.11,0.11]],
 [[1.07,1.02,0.91],[1.04,1.02,0.94],[1.04,1.04,0.92],[1.03,1.01,0.97],[1.07,0.98,0.97]],
 [[0.81,0.80,0.75],[0.85,0.76,0.72],[0.65,0.52,0.50],[0.82,0.67,0.65],[0.47,0.47,0.41]],
 [[1.15,1.10,1.07],[0.83,0.75,0.71],[1.06,0.98,0.92],[1.30,1.28,1.20],[1.39,1.38,1.18]],
 [[0.76,0.70,0.71],[0.38,0.30,0.30],[0.49,0.44,0.42],[1.02,0.87,0.78],[0.49,0.46,0.40]]];

// ---------- Panel C data ----------
const cYTicks=[0,20,40,60,80,100];
const cGroups=["UV- RA-","UV+ RA-","UV+ RA+"];
const cValues=[[2,2],[77,70],[5,6]];
const cMedians=[2,73.5,5.5];

// ---------- Drawing ----------
const NS='http://www.w3.org/2000/svg';
function mk(parent,tag,attrs,name){
  const el=document.createElementNS(NS,tag);
  for(const k in attrs) el.setAttribute(k,attrs[k]);
  
  
  parent.appendChild(el);
  return el;
}
function line(p,x1,y1,x2,y2,w,c,name){return mk(p,'line',{x1:x1,y1:y1,x2:x2,y2:y2,stroke:c,'stroke-width':w},name);}
function label(p,x,y,str,size,anchor,name){
  const t=mk(p,'text',{x:x,y:y,'font-size':size,'text-anchor':anchor},name);
  t.textContent=str;
  return t;
}
function dots(p,pts,xf,yf,r,c,name){
  const g=mk(p,'g',{fill:c},name+'-series');
  pts.forEach(function(d){mk(g,'circle',{cx:xf(d[0]),cy:yf(d[1]),r:r},name);});
}
function area(p,xs,ys,xf,yf,c,name){
  const a=xs.map(function(x,i){return xf(x)+','+yf(ys[i]);});
  a.push(xf(xs[xs.length-1])+','+yf(0));
  a.push(xf(xs[0])+','+yf(0));
  mk(p,'polygon',{points:a.join(' '),fill:c},name);
}
const GRAY='#434343',BLUE='#0c78ee',GREEN='#80ec80',YEL='#ffc21a',PINK='#f8288a';

// Volcano 1
(function(){
  const g=document.getElementById('volcano-1');
  const x=function(v){return 393.3+v*23.09;};
  const y=function(v){return 544.1-v*2.335;};
  const yt=function(v){return 142-(v-200)*0.59;};
  area(g,a1CloudLeftX,a1CloudLeftY,x,y,GRAY,'gray-cloud-left');
  area(g,a1CloudRightX,a1CloudRightY,x,y,GRAY,'gray-cloud-right');
  dots(g,a1Gray,x,y,1.25,GRAY,'gray-point');
  area(g,a1BlueCloudX,a1BlueCloudY,x,y,BLUE,'blue-cloud');
  dots(g,a1Blue,x,y,2.8,BLUE,'blue-point');
  dots(g,a1Green,x,y,4.1,GREEN,'green-point');
  dots(g,a1Yellow,x,y,4.1,YEL,'yellow-point');
  dots(g,a1Pink,x,y,4.1,PINK,'pink-point');
  dots(g,a1TopBlue,x,yt,2.8,BLUE,'blue-point-top');
  dots(g,a1TopGreen,x,yt,4.1,GREEN,'green-point-top');
  dots(g,a1TopPink,x,yt,4.1,PINK,'pink-point-top');
  line(g,x(-10),y(0),x(10),y(0),2,'#000','x-axis');
  a1XTicks.forEach(function(v){
    line(g,x(v),y(0),x(v),y(0)+11,1.6,'#000','x-tick');
    label(g,x(v),562.5,String(v),18,'middle','x-tick-label');
  });
  a1XMinor.forEach(function(v){line(g,x(v),y(0),x(v),y(0)+5,1.4,'#000','x-minor-tick');});
  line(g,x(0),y(150),x(0),y(0),2,'#000','y-axis-lower');
  a1YTicks.forEach(function(v){
    line(g,x(0)-8,y(v),x(0),y(v),1.6,'#000','y-tick');
    label(g,x(0)-9,y(v)+1,String(v),18,'end','y-tick-label');
  });
  a1YMinor.forEach(function(v){line(g,x(0)-4,y(v),x(0),y(v),1.4,'#000','y-minor-tick');});
  line(g,x(0)+0.5,yt(300),x(0)+0.5,yt(150),2,'#000','y-axis-upper');
  line(g,x(0)-7,yt(150),x(0)+8,yt(150),2,'#000','y-axis-break');
  a1TopTicks.forEach(function(v){
    line(g,x(0)-11,yt(v),x(0),yt(v),1.6,'#000','y-tick-top');
    label(g,x(0)-15,yt(v)+1,String(v),18,'end','y-tick-label-top');
  });
})();

function smallVolcanoAxes(g,x,y,xTicks){
  line(g,x(xTicks[0]),y(0),x(xTicks[xTicks.length-1]),y(0),2,'#000','x-axis');
  xTicks.forEach(function(v){
    line(g,x(v),y(0),x(v),y(0)+5,1.5,'#000','x-tick');
    label(g,x(v),561,String(v),18,'middle','x-tick-label');
  });
  line(g,x(0),y(50),x(0),y(0),2,'#000','y-axis');
  a2YTicks.forEach(function(v){
    line(g,x(0)-5,y(v),x(0),y(v),1.5,'#000','y-tick');
    label(g,x(0)-8,y(v)+1,String(v),18,'end','y-tick-label');
  });
  a2YMinor.forEach(function(v){line(g,x(0)-3,y(v),x(0),y(v),1.3,'#000','y-minor-tick');});
}
// Volcano 2
(function(){
  const g=document.getElementById('volcano-2');
  const x=function(v){return 959.3+v*65.84;};
  const y=function(v){return 544-v*9.23;};
  area(g,a2CloudX,a2CloudY,x,y,BLUE,'blue-cloud');
  dots(g,a2Blue,x,y,2.8,BLUE,'blue-point');
  dots(g,a2Green,x,y,4.1,GREEN,'green-point');
  dots(g,a2Yellow,x,y,4.1,YEL,'yellow-point');
  smallVolcanoAxes(g,x,y,a2XTicks);
})();
// Volcano 3
(function(){
  const g=document.getElementById('volcano-3');
  const x=function(v){return 1569.8+v*65.75;};
  const y=function(v){return 544-v*9.23;};
  area(g,a3CloudX,a3CloudY,x,y,BLUE,'blue-cloud');
  dots(g,a3Blue,x,y,2.8,BLUE,'blue-point');
  dots(g,a3Pink,x,y,4,PINK,'pink-point');
  dots(g,a3Yellow,x,y,4,YEL,'yellow-point');
  smallVolcanoAxes(g,x,y,a3XTicks);
})();

// Bar charts
const seriesFillThree=['#808080','#ff9280','#86e086'];
const seriesEdgeThree=['#666666','#ff7a66','#55d055'];
const seriesDotThree=['#000000','#ff2a0a','#05b405'];
const seriesFillFive=['#808080','#ff9280','#8ea4ff','#82dc82','#ffc97e'];
const seriesEdgeFive=['#666666','#ff7a66','#6f8aff','#55c855','#ffb85a'];
const seriesDotFive=['#000000','#ff2a0a','#1a47f5','#05b405','#ff9a0a'];

function swarm(vals,yf,r){
  const idx=vals.map(function(v,i){return i;}).sort(function(a,b){return vals[a]-vals[b];});
  const off=new Array(vals.length).fill(0);
  let cluster=[idx[0]];
  function flush(c){
    const sp=c.length===2?r*2.2:r*1.25;
    c.forEach(function(id,k){off[id]=(k-(c.length-1)/2)*sp;});
  }
  for(let i=1;i<idx.length;i++){
    if(Math.abs(yf(vals[idx[i]])-yf(vals[idx[i-1]]))<r*1.7) cluster.push(idx[i]);
    else {flush(cluster);cluster=[idx[i]];}
  }
  flush(cluster);
  return off;
}
function barChart(o){
  const g=document.getElementById(o.id);
  const y=function(v){return o.y0-(o.y0-o.y15)*v/1.5;};
  const tick=function(i){return o.first+i*o.step;};
  o.means.forEach(function(ser,s){
    ser.forEach(function(m,c){
      const cx=tick(c)+o.offs[s];
      mk(g,'rect',{x:cx-o.w/2,y:y(m),width:o.w,height:y(0)-y(m),fill:o.fills[s],stroke:o.edges[s],'stroke-width':1.2},'bar-'+o.cats[c]+'-series'+s);
    });
  });
  o.means.forEach(function(ser,s){
    ser.forEach(function(m,c){
      const cx=tick(c)+o.offs[s];
      const reps=o.reps[s][c];
      const mean=reps.reduce(function(a,b){return a+b;},0)/reps.length;
      const sd=Math.sqrt(reps.reduce(function(a,b){return a+(b-mean)*(b-mean);},0)/(reps.length-1));
      line(g,cx,y(m+sd),cx,y(m-sd),2,o.dots[s],'error-bar');
      line(g,cx-5,y(m+sd),cx+5,y(m+sd),1.8,o.dots[s],'error-cap-top');
      line(g,cx-5,y(m-sd),cx+5,y(m-sd),1.8,o.dots[s],'error-cap-bottom');
      const off=swarm(reps,y,o.r);
      reps.forEach(function(v,k){
        mk(g,'circle',{cx:cx+off[k],cy:y(v),r:o.r,fill:o.dots[s]},'replicate-point');
      });
    });
  });
  line(g,o.axisX,y(1.5)-1,o.axisX,y(0),2,'#000','y-axis');
  line(g,o.xStart,y(0),o.xEnd,y(0),2,'#000','x-axis');
  yTicksBar.forEach(function(v){
    line(g,o.axisX-12.7,y(v),o.axisX,y(v),1.6,'#000','y-tick');
    label(g,o.axisX-16.5,y(v)+1.5,v.toFixed(1),15.5,'end','y-tick-label');
  });
  yMinorBar.forEach(function(v){line(g,o.axisX-7.7,y(v),o.axisX,y(v),1.4,'#000','y-minor-tick');});
  o.cats.forEach(function(cat,c){
    line(g,tick(c),y(0),tick(c),y(0)+12.7,1.6,'#000','x-tick');
    label(g,tick(c)+o.labelDx[c]-0.5,o.labelY+1,cat,o.catSize,'middle','category-label-'+cat);
  });
}
const three={cats:categoriesCyto,fills:seriesFillThree,edges:seriesEdgeThree,dots:seriesDotThree,w:16.6,r:4.2,catSize:19.7};
barChart(Object.assign({},three,{id:'chart-b1',means:b1Means,reps:b1Reps,axisX:112.5,y0:966.3,y15:702.3,xStart:102,xEnd:507,first:151,step:79.2,offs:[-21.8,0.8,22.7],labelDx:[2.8,1.3,0.6,-1,3],labelY:992.3}));
barChart(Object.assign({},three,{id:'chart-b2',means:b2Means,reps:b2Reps,axisX:721.7,y0:966.3,y15:702.9,xStart:709,xEnd:1116,first:760.3,step:79.25,offs:[-21.6,0.4,22.7],labelDx:[-0.3,-1,-2.4,-3.7,0],labelY:993.7}));
barChart(Object.assign({},three,{id:'chart-b3',means:b3Means,reps:b3Reps,axisX:1344,y0:966.9,y15:703.6,xStart:1333,xEnd:1733,first:1382.3,step:79.2,offs:[-21.6,0.4,22.7],labelDx:[-0.3,-1.3,-2.7,-3.7,0],labelY:992.7}));
barChart(Object.assign({},three,{id:'chart-d',means:dMeans,reps:dReps,axisX:495.4,y0:1417.8,y15:1154.2,xStart:485,xEnd:891,first:533.9,step:79.35,offs:[-21.3,0.5,22.9],labelDx:[0,-1,-2.3,-3.4,0],labelY:1444}));
barChart(Object.assign({},three,{id:'chart-e',means:eMeans,reps:eReps,axisX:1311.3,y0:1417.5,y15:1154.2,xStart:1301.8,xEnd:1706,first:1350,step:79.2,offs:[-21.7,1.2,22.4],labelDx:[-0.4,-2,-2.6,-3.7,0],labelY:1443.3}));
barChart(Object.assign({},three,{id:'chart-f',means:fMeans,reps:fReps,axisX:436,y0:1882.5,y15:1618.8,xStart:425.5,xEnd:830,first:474.8,step:79.4,offs:[-21.8,0.5,22.8],labelDx:[-0.6,-1.8,-2.3,-4.1,0],labelY:1908.7}));
barChart({id:'chart-g',cats:categoriesG,means:gMeans,reps:gReps,fills:seriesFillFive,edges:seriesEdgeFive,dots:seriesDotFive,w:17.5,r:4.2,catSize:18.2,axisX:1052,y0:1882.2,y15:1618.5,xStart:1040,xEnd:1711,first:1117.4,step:132.15,offs:[-46.8,-23.4,0,23.9,47.8],labelDx:[0,0,0,0,0],labelY:1910});

// Panel C
(function(){
  const g=document.getElementById('chart-c');
  const y=function(v){return 1416.7-v*2.634;};
  const tick=function(i){return 146+i*52.5;};
  line(g,110,y(100),110,y(0),2,'#000','y-axis');
  line(g,99,y(0),286,y(0),2,'#000','x-axis');
  cYTicks.forEach(function(v){
    line(g,99,y(v),110,y(v),1.6,'#000','y-tick');
    label(g,97,y(v)+1,String(v),18,'end','y-tick-label');
  });
  cGroups.forEach(function(name,i){
    line(g,tick(i),y(0),tick(i),y(0)+11,1.6,'#000','x-tick');
    const vals=cValues[i];
    const close=Math.abs(y(vals[0])-y(vals[1]))<8;
    const half=close?12.5:17;
    line(g,tick(i)-half,y(cMedians[i]),tick(i)+half,y(cMedians[i]),2.2,'#ff3a1a','median-line-'+i);
    vals.forEach(function(v,k){
      const dx=close?(k===0?-12.5:12.5):0;
      mk(g,'circle',{cx:tick(i)+dx,cy:y(v),r:4.8,fill:'#000'},'il6-point-'+i);
    });
  });
})();
</script>
</body>
</html>
